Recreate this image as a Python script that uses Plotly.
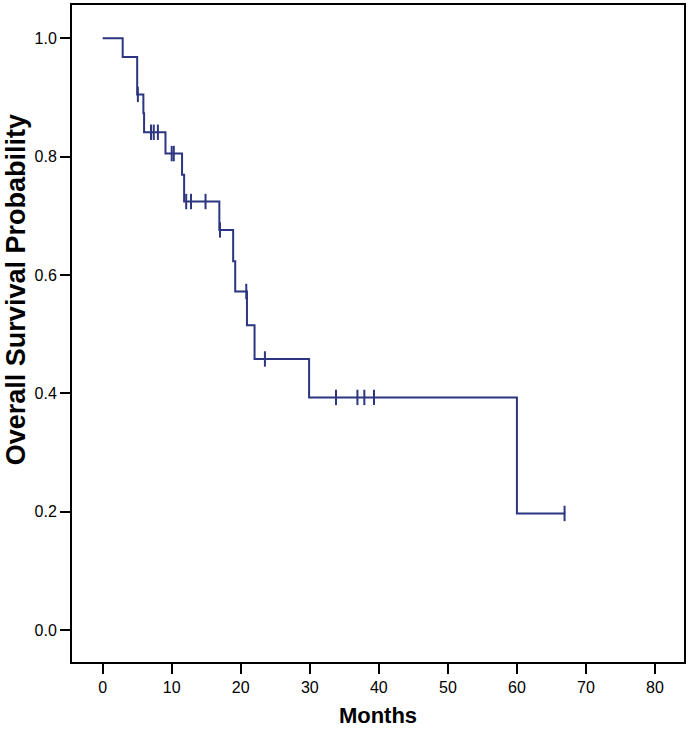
import numpy as np
import plotly.graph_objects as go

# Kaplan-Meier step function (event times in months, survival after the step)
step_months = [0, 2.9, 5.0, 5.9, 6.0, 9.1, 11.5, 11.8, 16.9, 18.9, 19.2, 20.9, 22.0, 29.9, 60.0]
step_surv = [1.0, 0.968, 0.905, 0.873, 0.841, 0.805, 0.769, 0.724, 0.676, 0.623, 0.572, 0.515, 0.458, 0.393, 0.197]
last_followup = 67.0

# censored observations (months)
censor_months = [5.1, 7.0, 7.4, 8.0, 10.0, 10.3, 12.1, 12.8, 14.9, 17.0, 20.8, 23.5,
                 33.8, 36.9, 37.9, 39.3, 66.9]

x_ticks = [0, 10, 20, 30, 40, 50, 60, 70, 80]
y_ticks = [0.0, 0.2, 0.4, 0.6, 0.8, 1.0]

LINE_COLOR = "#2b3580"
FONT = "Liberation Sans, Arial, sans-serif"


def surv_at(t):
    # survival level of the step curve at time t
    idx = np.searchsorted(step_months, t, side="right") - 1
    return step_surv[idx]


curve_x = step_months + [last_followup]
curve_y = step_surv + [step_surv[-1]]
censor_y = [surv_at(t) for t in censor_months]

fig = go.Figure()
fig.add_trace(go.Scatter(
    x=curve_x, y=curve_y,
    mode="lines",
    line=dict(color=LINE_COLOR, width=2, shape="hv"),
    showlegend=False,
    hoverinfo="skip",
))
fig.add_trace(go.Scatter(
    x=censor_months, y=censor_y,
    mode="markers",
    marker=dict(symbol="line-ns", size=11, line=dict(color=LINE_COLOR, width=2)),
    showlegend=False,
))

tick_font = dict(family=FONT, size=16, color="black")

fig.update_xaxes(
    range=[-4.44, 84.2],
    tickvals=x_ticks,
    ticktext=[str(v) for v in x_ticks],
    ticks="outside", ticklen=10, tickwidth=2, tickcolor="black",
    showline=True, linecolor="black", linewidth=2, mirror=True,
    showgrid=False, zeroline=False,
    tickfont=tick_font,
    title=dict(text="<b>Months</b>", font=dict(family=FONT, size=22, color="black"), standoff=12),
)
fig.update_yaxes(
    range=[-0.054, 1.056],
    tickvals=y_ticks,
    ticktext=["%.1f" % v for v in y_ticks],
    ticks="outside", ticklen=10, tickwidth=2, tickcolor="black",
    showline=True, linecolor="black", linewidth=2, mirror=True,
    showgrid=False, zeroline=False,
    tickfont=tick_font,
)

# y title sits a bit above the middle of the axis in the original
fig.add_annotation(
    text="<b>Overall Survival Probability</b>",
    xref="paper", yref="paper",
    x=-0.0914, y=0.566,
    xanchor="center", yanchor="middle",
    textangle=-90, showarrow=False,
    font=dict(family=FONT, size=27, color="black"),
)

fig.update_layout(
    width=689, height=730,
    margin=dict(l=72, r=4, t=3, b=68),
    paper_bgcolor="white",
    plot_bgcolor="white",
)

fig.write_html("out.html", config={"displayModeBar": False},
               post_script="document.body.style.margin = '0px';")
